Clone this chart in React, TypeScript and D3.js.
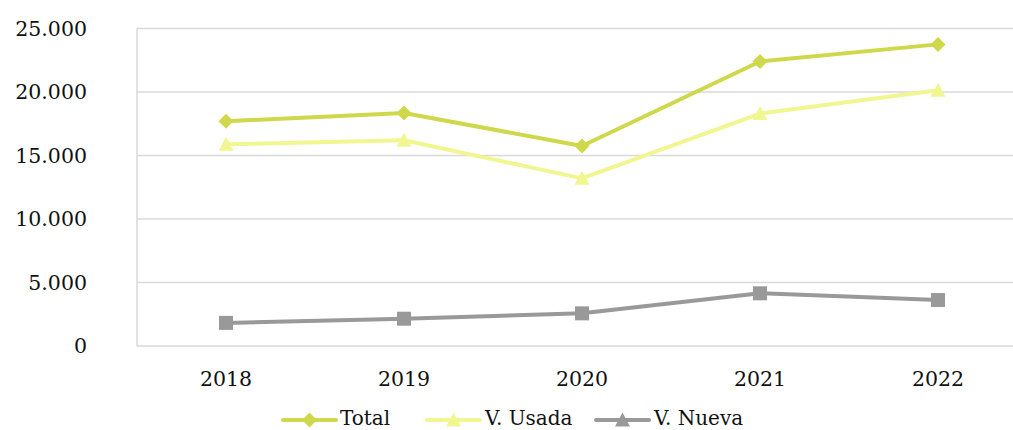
import React from "react";
import * as d3 from "d3";

const years = ["2018", "2019", "2020", "2021", "2022"];
const total = [17700, 18350, 15750, 22400, 23750];
const usada = [15880, 16200, 13200, 18300, 20130];
const nueva = [1820, 2150, 2570, 4150, 3620];
const yTicks = [0, 5000, 10000, 15000, 20000, 25000];

const W = 1013, H = 430;
const left = 137, right = 1027, top = 28.5, bottom = 346;
const FONT = "'DejaVu Serif', serif";

const x = d3.scaleBand<string>().domain(years).range([left, right]);
const y = d3.scaleLinear().domain([0, 25000]).range([bottom, top]);
const fmt = (v: number) => (v === 0 ? "0" : d3.format(",")(v).replace(/,/g, "."));

const series = [
  { name: "Total", data: total, color: "#cfd84b", marker: "diamond" },
  { name: "V. Usada", data: usada, color: "#f1f691", marker: "triangle" },
  { name: "V. Nueva", data: nueva, color: "#999999", marker: "square" },
];

function Marker({ type, cx, cy, color }: { type: string; cx: number; cy: number; color: string }) {
  if (type === "diamond") {
    const s = 7.5;
    return <path d={`M${cx},${cy - s}L${cx + s},${cy}L${cx},${cy + s}L${cx - s},${cy}Z`} fill={color} />;
  }
  if (type === "triangle") {
    const s = 7.5;
    return <path d={`M${cx},${cy - s}L${cx + s},${cy + s * 0.85}L${cx - s},${cy + s * 0.85}Z`} fill={color} />;
  }
  return <rect x={cx - 7} y={cy - 7} width={14} height={14} fill={color} />;
}

export default function App() {
  const cx = (d: string) => (x(d) as number) + x.bandwidth() / 2;
  const line = d3.line<number>().x((_, i) => cx(years[i])).y((v) => y(v));
  const legend = [
    { s: series[0], x0: 283, tx: 340 },
    { s: series[1], x0: 427, tx: 485 },
    { s: series[2], x0: 596, tx: 654, mk: "triangle" },
  ];
  const ly = 418;
  return (
    <svg width={W} height={H} style={{ position: "absolute", left: 0, top: 0 }}>
      <rect width={W} height={H} fill="#fff" />
      {yTicks.map((t) => (
        <line key={t} x1={left} x2={right} y1={y(t)} y2={y(t)} stroke="#d9d9d9" strokeWidth={1.5} />
      ))}
      <line x1={left} x2={left} y1={top} y2={bottom} stroke="#d9d9d9" strokeWidth={1.5} />
      {yTicks.map((t) => (
        <text key={t} x={87} y={y(t)} dy="0.36em" textAnchor="end" fontFamily={FONT} fontSize={20.5} fill="#111">
          {fmt(t)}
        </text>
      ))}
      {years.map((yr) => (
        <text key={yr} x={cx(yr)} y={379} dy="0.36em" textAnchor="middle" fontFamily={FONT} fontSize={20.5} fill="#111">
          {yr}
        </text>
      ))}
      {series.map((s) => (
        <g key={s.name}>
          <path d={line(s.data) || ""} fill="none" stroke={s.color} strokeWidth={4} strokeLinejoin="round" />
          {s.data.map((v, i) => (
            <Marker key={i} type={s.marker} cx={cx(years[i])} cy={y(v)} color={s.color} />
          ))}
        </g>
      ))}
      {legend.map(({ s, x0, tx, mk }) => (
        <g key={s.name}>
          <line x1={x0} x2={x0 + 53} y1={ly + 2} y2={ly + 2} stroke={s.color} strokeWidth={4} strokeLinecap="round" />
          <Marker type={mk || s.marker} cx={x0 + 26.5} cy={ly + 2} color={s.color} />
          <text x={tx} y={ly} dy="0.36em" fontFamily={FONT} fontSize={20} fill="#111">
            {s.name}
          </text>
        </g>
      ))}
    </svg>
  );
}
